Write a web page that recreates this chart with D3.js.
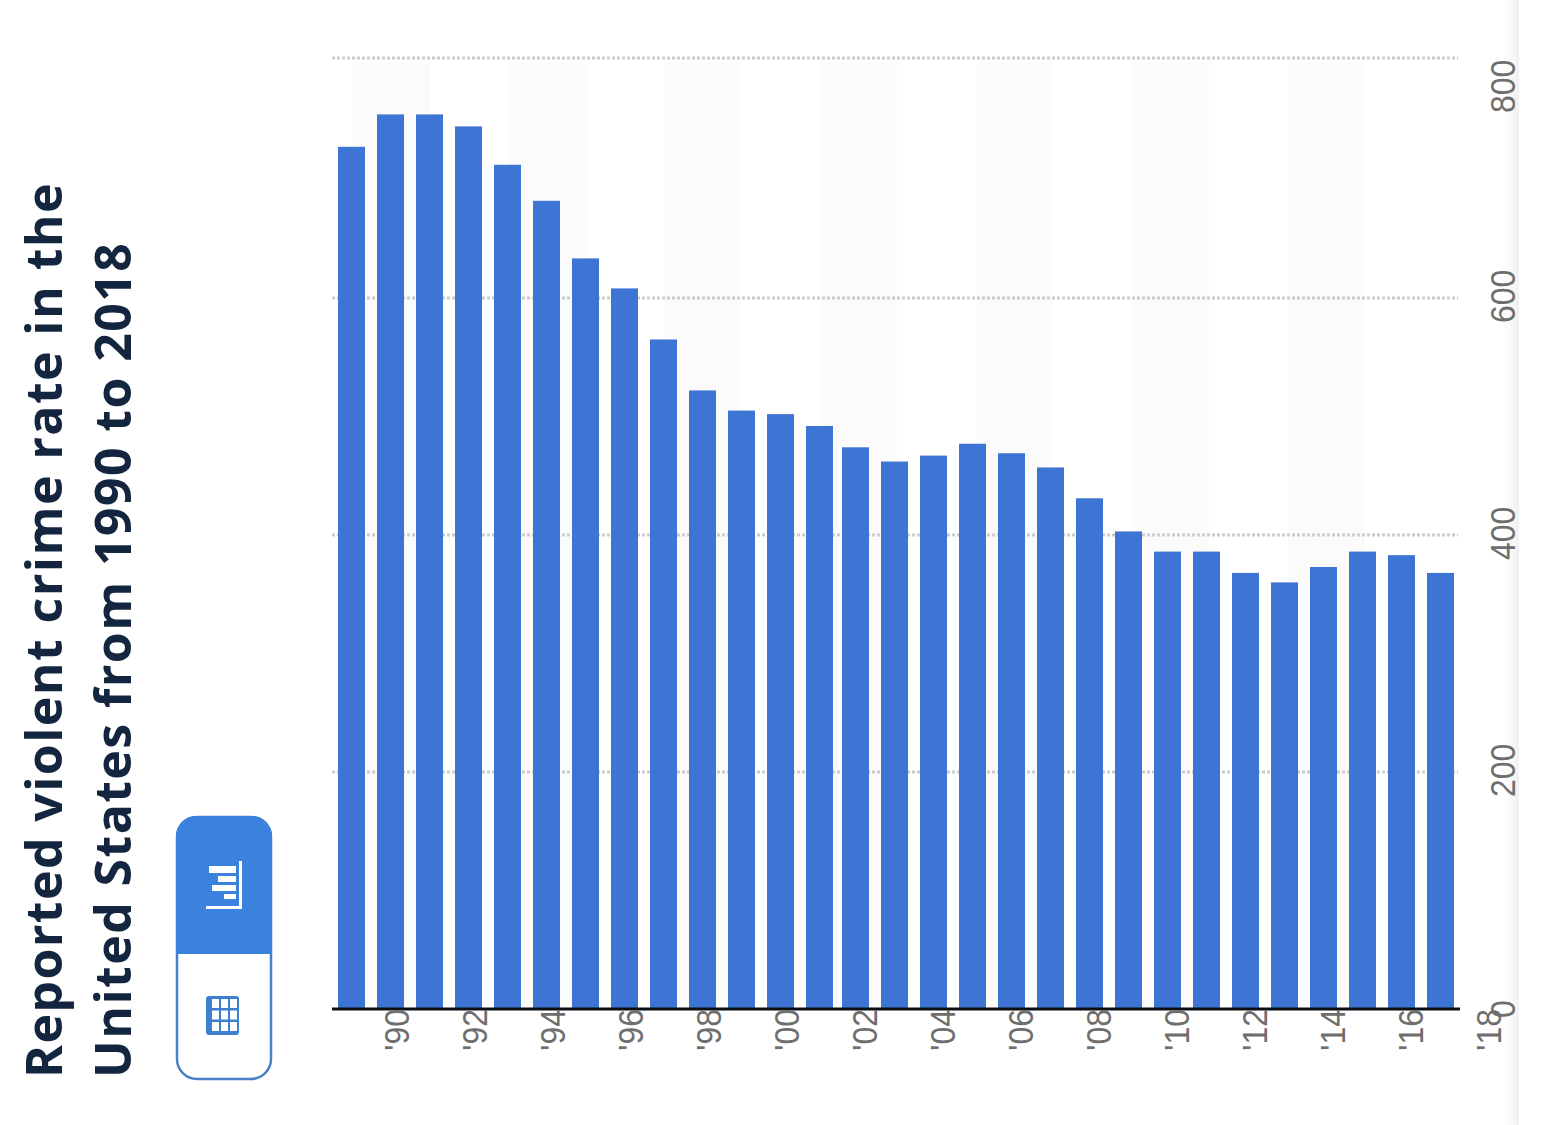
<!DOCTYPE html>
<html><head><meta charset="utf-8">
<style>html,body{margin:0;padding:0;background:#fff;overflow:hidden}svg{display:block}</style>
<script src="https://cdnjs.cloudflare.com/ajax/libs/d3/7.8.5/d3.min.js"></script>
</head><body><div id="chart"></div>
<script>
const years = d3.range(1990, 2019);
const values = [726,753,753,743,711,681,633,608,565,522,505,502,492,474,462,467,477,469,457,431,403,386,386,368,360,373,386,383,368];
const tickYears = ["'90","'92","'94","'96","'98","'00","'02","'04","'06","'08","'10","'12","'14","'16","'18"];
const yTicks = [0,200,400,600,800];
const titleLines = ["Reported violent crime rate in the","United States from 1990 to 2018"];

const W = 1541, H = 1125;
const svg = d3.select("#chart").append("svg").attr("width", W).attr("height", H);

const defs = svg.append("defs");
const grad = defs.append("linearGradient").attr("id","edge");
grad.append("stop").attr("offset","0").attr("stop-color","#f4f4f4").attr("stop-opacity",0);
grad.append("stop").attr("offset","1").attr("stop-color","#f0f0f0").attr("stop-opacity",1);

// piecewise scales follow the slightly uneven spacing in the source image
const x = d3.scaleLinear().domain([1990,2002,2003,2018]).range([338,806,842,1427]);
const barW = 27;
const y = d3.scaleLinear().domain([0,200,400,600,800]).range([1008,772,535,298,58]);

// alternating background bands
const bandYears = [1990,1994,1998,2002,2006,2010,2014];
const bandX = d3.scaleLinear().domain([1990,2014]).range([353,1288]);
svg.append("g").selectAll("rect").data(bandYears).join("rect")
  .attr("x", d=>bandX(d)).attr("width",76.5)
  .attr("y", 62).attr("height", 946).attr("fill","#fbfbfb");

// right-edge shade
svg.append("rect").attr("x",1503).attr("y",0).attr("width",16).attr("height",H).attr("fill","url(#edge)");

// grid
svg.append("g").selectAll("line").data(yTicks.filter(d=>d>0)).join("line")
  .attr("x1",332).attr("x2",1458).attr("y1",d=>y(d)).attr("y2",d=>y(d))
  .attr("stroke","#cccccc").attr("stroke-width",3).attr("stroke-dasharray","3 2");

// bars
svg.append("g").selectAll("rect").data(values).join("rect")
  .attr("x",(d,i)=>x(years[i])).attr("width",barW)
  .attr("y",d=>y(d)).attr("height",d=>y(0)-y(d)).attr("fill","#3e74d3");

// baseline
svg.append("line").attr("x1",332).attr("x2",1460).attr("y1",1009).attr("y2",1009)
  .attr("stroke","#0b0f14").attr("stroke-width",3);

// tick labels
const tickFont = "'Liberation Sans', Arial, sans-serif";
const xLab = d3.scaleLinear().domain([0,14]).range([409,1501]);
svg.append("g").selectAll("text").data(tickYears).join("text")
  .attr("transform",(d,i)=>`translate(${xLab(i)},1009) rotate(-90) scale(1,1.08)`)
  .attr("text-anchor","end").attr("font-family",tickFont).attr("font-size",32)
  .attr("fill","#6e6e6e").text(d=>d);
const yLabOffset = d => d===800 ? 55 : 25;
svg.append("g").selectAll("text").data(yTicks).join("text")
  .attr("transform",d=>`translate(1515,${d===0?1018:y(d)+yLabOffset(d)}) rotate(-90) scale(1,1.08)`)
  .attr("text-anchor","start").attr("font-family",tickFont).attr("font-size",32)
  .attr("fill","#6e6e6e").text(d=>d);

// title
svg.append("g").selectAll("text").data(titleLines).join("text")
  .attr("transform",(d,i)=>`translate(${62+i*69},1078) rotate(-90)`)
  .attr("font-family","'Open Sans', sans-serif").attr("font-weight",700).attr("font-size",50)
  .attr("letter-spacing",1.4)
  .attr("fill","#14263f").text(d=>d);

// toggle control
const tg = svg.append("g");
const btn = {x:177,y:817,w:94,h:262,r:20,split:954};
tg.append("rect").attr("x",btn.x).attr("y",btn.y).attr("width",btn.w).attr("height",btn.h).attr("rx",btn.r)
  .attr("fill","#fff").attr("stroke","#4a80c8").attr("stroke-width",2.5);
tg.append("path").attr("fill","#3b82de")
  .attr("d",`M${btn.x-1},${btn.split}V${btn.y+btn.r}a${btn.r},${btn.r} 0 0 1 ${btn.r},-${btn.r+1}h${btn.w+2-2*btn.r}a${btn.r},${btn.r} 0 0 1 ${btn.r},${btn.r+1}V${btn.split}Z`);
// bar icon
const ic = tg.append("g").attr("fill","#fff");
[[209,866,27,7],[218,876,18,6],[212,885,24,6],[224,894,12,5]].forEach(r=>
  ic.append("rect").attr("x",r[0]).attr("y",r[1]).attr("width",r[2]).attr("height",r[3]));
ic.append("rect").attr("x",239).attr("y",861).attr("width",3).attr("height",48);
ic.append("rect").attr("x",206).attr("y",906).attr("width",36).attr("height",3);
// table icon
tg.append("rect").attr("x",206).attr("y",996).attr("width",33).attr("height",39).attr("rx",3).attr("fill","#3f7fd0");
const ci=[0,1,2], cj=[0,1,2];
ci.forEach(a=>cj.forEach(b=>tg.append("rect").attr("x",212+a*9).attr("y",999+b*11.5).attr("width",7).attr("height",9).attr("fill","#fff")));
</script></body></html>
